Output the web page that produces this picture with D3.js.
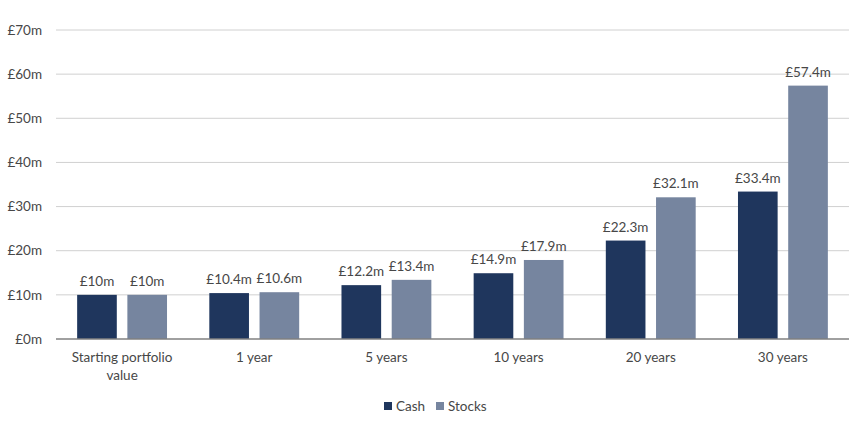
<!DOCTYPE html>
<html>
<head>
<meta charset="utf-8">
<script src="https://cdn.jsdelivr.net/npm/d3@7"></script>
<style>
  body { margin: 0; background: #fff; }
  text { font-family: "Lato", "Open Sans", sans-serif; fill: #474747; }
</style>
</head>
<body>
<div id="chart"></div>
<script>
// Chart data
const categories = ["Starting portfolio value", "1 year", "5 years", "10 years", "20 years", "30 years"];
const cashValues = [10, 10.4, 12.2, 14.9, 22.3, 33.4];
const stockValues = [10, 10.6, 13.4, 17.9, 32.1, 57.4];
const seriesNames = ["Cash", "Stocks"];
const seriesColors = ["#1f365d", "#76859f"];
const yTicks = [0, 10, 20, 30, 40, 50, 60, 70];

const width = 864, height = 428;
const margin = { top: 30, right: 15, bottom: 89, left: 56 };

const svg = d3.select("#chart")
    .append("svg")
    .attr("width", width)
    .attr("height", height);

const x = d3.scaleBand()
    .domain(categories)
    .range([margin.left, width - margin.right]);

const y = d3.scaleLinear()
    .domain([0, 70])
    .range([height - margin.bottom, margin.top]);

// gridlines
svg.append("g")
    .selectAll("line")
    .data(yTicks.slice(1))
    .join("line")
    .attr("x1", margin.left)
    .attr("x2", width - margin.right)
    .attr("y1", d => y(d))
    .attr("y2", d => y(d))
    .attr("stroke", "#d0d0d0")
    .attr("stroke-width", 1);

// y axis labels
svg.append("g")
    .selectAll("text")
    .data(yTicks)
    .join("text")
    .attr("x", 42)
    .attr("y", d => y(d))
    .attr("dy", "0.35em")
    .attr("text-anchor", "end")
    .style("font-size", "13.5px")
    .text(d => "£" + d + "m");

// bars, offset from the band centre
const barW = x.bandwidth() * 0.3;
const offset = x.bandwidth() * 0.19;
const series = [cashValues, stockValues];

series.forEach((vals, s) => {
    const g = svg.append("g");
    const rows = categories.map((c, i) => ({ c, v: vals[i] }));
    const cx = d => x(d.c) + x.bandwidth() / 2 + (s === 0 ? -offset : offset);

    g.selectAll("rect")
        .data(rows)
        .join("rect")
        .attr("x", d => cx(d) - barW / 2)
        .attr("y", d => y(d.v))
        .attr("width", barW)
        .attr("height", d => y(0) - y(d.v))
        .attr("fill", seriesColors[s]);

    g.selectAll("text")
        .data(rows)
        .join("text")
        .attr("x", cx)
        .attr("y", d => y(d.v) - 9)
        .attr("text-anchor", "middle")
        .style("font-size", "13.5px")
        .text(d => "£" + d.v + "m");
});

// baseline
svg.append("line")
    .attr("x1", margin.left)
    .attr("x2", width - margin.right)
    .attr("y1", y(0))
    .attr("y2", y(0))
    .attr("stroke", "#808080")
    .attr("stroke-width", 1.5);

// x labels (first one wraps)
const xLabels = svg.append("g");
categories.forEach(c => {
    const lines = c === "Starting portfolio value" ? ["Starting portfolio", "value"] : [c];
    const t = xLabels.append("text")
        .attr("text-anchor", "middle")
        .style("font-size", "13.5px");
    lines.forEach((l, i) => {
        t.append("tspan")
            .attr("x", x(c) + x.bandwidth() / 2)
            .attr("y", y(0) + 23 + i * 18)
            .text(l);
    });
});

// legend
const legend = svg.append("g");
const legendX = [384, 436];
seriesNames.forEach((n, i) => {
    legend.append("rect")
        .attr("x", legendX[i])
        .attr("y", 402)
        .attr("width", 8)
        .attr("height", 8)
        .attr("fill", seriesColors[i]);
    legend.append("text")
        .attr("x", legendX[i] + 12)
        .attr("y", 406)
        .attr("dy", "0.35em")
        .style("font-size", "13.5px")
        .text(n);
});
</script>
</body>
</html>
